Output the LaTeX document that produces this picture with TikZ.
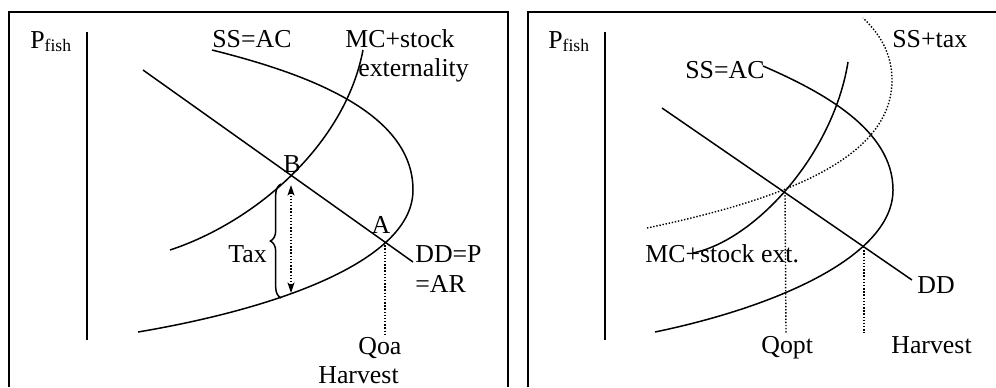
\documentclass[tikz,border=0pt]{standalone}
\usepackage{fontspec}
\setmainfont{Liberation Serif}
\usepackage{tikz}
\usetikzlibrary{arrows.meta, decorations.pathreplacing}

\newcommand{\pfish}{P\raisebox{-0.3ex}{\fontsize{10}{11}\selectfont fish}}

\begin{document}
\begin{tikzpicture}[x=0.02cm, y=-0.02cm, font=\fontsize{14.7}{17}\selectfont,
    frameline/.style={line width=1.1pt},
    curve/.style={line width=0.85pt},
    guide/.style={line width=0.8pt, densely dotted},
    lbl/.style={inner sep=0pt, anchor=base west}]
    \useasboundingbox (0,0) rectangle (996,387);

    % --- Left panel: tax on harvest ---
    \draw[frameline] (9,387) -- (9,12) -- (508,12) -- (508,387);
    \node[lbl] (lp) at (30,48) {\pfish};
    \draw[curve] (87,32) -- (87,340);
    \coordinate (dd1) at (143,70);
    \coordinate (dd2) at (413,262);
    \coordinate (A) at (385,242);
    \coordinate (B) at (292,176);
    \draw[curve] (dd1) -- (dd2);
    \draw[curve] (212,50) .. controls (300,72) and (413,110) .. (413,190)
        .. controls (413,260) and (280,308) .. (138,332);
    \draw[curve] (170,250) .. controls (255,222) and (345,145) .. (363,50);
    \coordinate (t1) at (291,185);
    \coordinate (t2) at (291,293);
    \draw[guide, {Stealth[length=6pt, width=4pt, inset=1.5pt]}-{Stealth[length=6pt, width=4pt, inset=1.5pt]}] (t1) -- (t2);
    \draw[curve, decorate, decoration={brace, amplitude=6pt}] (281,298) -- (281,184);
    \coordinate (qa) at (385,335);
    \draw[guide] (A) -- (qa);
    \node[lbl] (ss) at (212,47) {SS=AC};
    \node[lbl] (mc1) at (345,47) {MC+stock};
    \node[lbl] (mc2) at (358,76) {externality};
    \node[inner sep=0pt] (bl) at (292,164) {B};
    \node[inner sep=0pt] (al) at (381,225) {A};
    \node[lbl] (tax) at (228,262) {Tax};
    \node[lbl] (dd) at (415,262) {DD=P};
    \node[lbl] (ar) at (415,292) {=AR};
    \node[lbl] (qoa) at (358,354) {Qoa};
    \node[lbl] (hl) at (318,383) {Harvest};

    % --- Right panel: optimum with tax ---
    \draw[frameline] (528,387) -- (528,12) -- (996,12);
    \node[lbl] (rp) at (548,48) {\pfish};
    \draw[curve] (605,32) -- (605,340);
    \coordinate (rd1) at (662,108);
    \coordinate (rd2) at (912,280);
    \coordinate (O) at (785,192);
    \coordinate (H) at (864,247);
    \draw[curve] (rd1) -- (rd2);
    \draw[curve] (763,66) .. controls (823,92) and (893,130) .. (893,190)
        .. controls (893,255) and (780,306) .. (655,332);
    \draw[curve] (693,253) .. controls (755,240) and (833,155) .. (848,62);
    \draw[guide] (647,228) .. controls (780,200) and (892,160) .. (892,80)
        .. controls (892,52) and (878,32) .. (863,18);
    \coordinate (qo) at (786,333);
    \coordinate (qh) at (864,333);
    \draw[guide] (O) -- (qo);
    \draw[guide] (H) -- (qh);
    \node[lbl] (rss) at (685,78) {SS=AC};
    \node[lbl] (tax2) at (892,47) {SS+tax};
    \node[lbl] (rmc) at (645,262) {MC+stock ext.};
    \node[lbl] (rdd) at (917,293) {DD};
    \node[lbl] (qopt) at (761,353) {Qopt};
    \node[lbl] (hr) at (891,353) {Harvest};
\end{tikzpicture}
\end{document}
